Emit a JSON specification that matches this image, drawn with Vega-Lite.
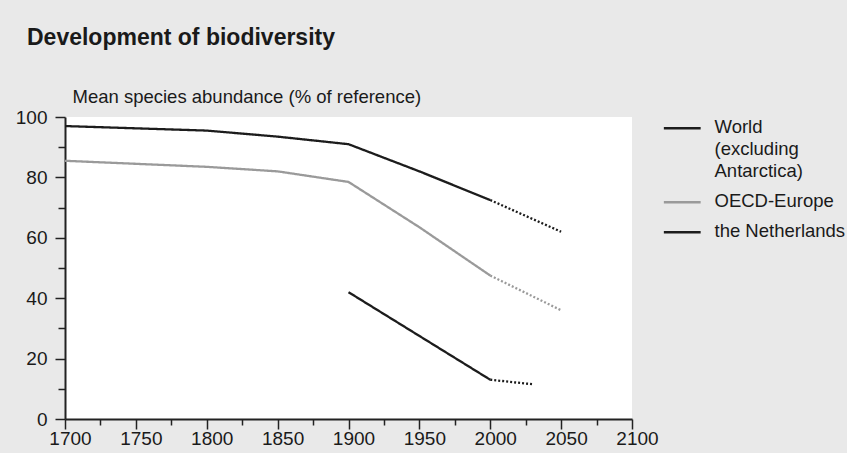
{
  "$schema": "https://vega.github.io/schema/vega-lite/v6.json",
  "width": 567,
  "height": 302,
  "autosize": "none",
  "padding": {"left": 65, "top": 117, "right": 215, "bottom": 34},
  "background": "#e9e9e9",
  "title": {
    "text": "Development of biodiversity",
    "anchor": "start",
    "frame": "group",
    "font": "Liberation Sans",
    "fontSize": 23,
    "fontWeight": "bold",
    "color": "#1a1a1a",
    "dx": -38,
    "offset": 37
  },
  "data": {
    "values": [
      {"region": "World (excluding Antarctica)", "phase": "observed", "year": 1700, "value": 97},
      {"region": "World (excluding Antarctica)", "phase": "observed", "year": 1800, "value": 95.5},
      {"region": "World (excluding Antarctica)", "phase": "observed", "year": 1850, "value": 93.5},
      {"region": "World (excluding Antarctica)", "phase": "observed", "year": 1900, "value": 91},
      {"region": "World (excluding Antarctica)", "phase": "observed", "year": 1950, "value": 82},
      {"region": "World (excluding Antarctica)", "phase": "observed", "year": 2000, "value": 72.5},
      {"region": "World (excluding Antarctica)", "phase": "projected", "year": 2000, "value": 72.5},
      {"region": "World (excluding Antarctica)", "phase": "projected", "year": 2050, "value": 62},
      {"region": "OECD-Europe", "phase": "observed", "year": 1700, "value": 85.5},
      {"region": "OECD-Europe", "phase": "observed", "year": 1800, "value": 83.5},
      {"region": "OECD-Europe", "phase": "observed", "year": 1850, "value": 82},
      {"region": "OECD-Europe", "phase": "observed", "year": 1900, "value": 78.5},
      {"region": "OECD-Europe", "phase": "observed", "year": 1950, "value": 63.5},
      {"region": "OECD-Europe", "phase": "observed", "year": 2000, "value": 47.5},
      {"region": "OECD-Europe", "phase": "projected", "year": 2000, "value": 47.5},
      {"region": "OECD-Europe", "phase": "projected", "year": 2050, "value": 36},
      {"region": "the Netherlands", "phase": "observed", "year": 1900, "value": 42},
      {"region": "the Netherlands", "phase": "observed", "year": 2000, "value": 13},
      {"region": "the Netherlands", "phase": "projected", "year": 2000, "value": 13},
      {"region": "the Netherlands", "phase": "projected", "year": 2030, "value": 11.5}
    ]
  },
  "mark": {"type": "line", "strokeWidth": 2.3, "clip": false},
  "encoding": {
    "x": {
      "field": "year",
      "type": "quantitative",
      "scale": {"domain": [1700, 2100], "nice": false, "zero": false},
      "axis": {
        "title": null,
        "values": [1700, 1725, 1750, 1775, 1800, 1825, 1850, 1875, 1900, 1925, 1950, 1975, 2000, 2025, 2050, 2075, 2100],
        "format": "d",
        "labelExpr": "datum.value % 50 === 0 ? datum.label : ''",
        "tickSize": {"condition": {"test": "datum.value % 50 === 0", "value": 10}, "value": 6},
        "labelPadding": 0,
        "labelOffset": 5,
        "labelFlush": false,
        "labelOverlap": false
      }
    },
    "y": {
      "field": "value",
      "type": "quantitative",
      "scale": {"domain": [0, 100], "nice": false},
      "axis": {
        "title": "Mean species abundance (% of reference)",
        "titleAngle": 0,
        "titleAlign": "left",
        "titleBaseline": "alphabetic",
        "titleX": 7,
        "titleY": -15,
        "titleFont": "Liberation Sans",
        "titleFontSize": 18.5,
        "titleFontWeight": "normal",
        "titleColor": "#1a1a1a",
        "values": [0, 10, 20, 30, 40, 50, 60, 70, 80, 90, 100],
        "labelExpr": "datum.value % 20 === 0 ? datum.label : ''",
        "tickSize": {"condition": {"test": "datum.value % 20 === 0", "value": 10}, "value": 7},
        "labelPadding": 8,
        "labelFlush": false,
        "labelOverlap": false
      }
    },
    "color": {
      "field": "region",
      "type": "nominal",
      "scale": {
        "domain": ["World (excluding Antarctica)", "OECD-Europe", "the Netherlands"],
        "range": ["#1c1c1c", "#9a9a9a", "#1c1c1c"]
      },
      "legend": {
        "title": null,
        "orient": "none",
        "legendX": 608,
        "legendY": 2,
        "symbolType": "M-4.6,0H4.6",
        "symbolSize": 64,
        "symbolStrokeWidth": 2.5,
        "labelFont": "Liberation Sans",
        "labelFontSize": 18.5,
        "labelColor": "#1a1a1a",
        "labelOffset": 23,
        "labelBaseline": "top",
        "labelLimit": 300,
        "rowPadding": 11,
        "padding": 0,
        "labelExpr": "datum.label === 'World (excluding Antarctica)' ? ['World', '(excluding', 'Antarctica)'] : datum.label",
        "encode": {
          "labels": {"update": {"dy": {"value": -10}, "lineHeight": {"value": 22}}}
        }
      }
    },
    "strokeDash": {
      "field": "phase",
      "type": "nominal",
      "scale": {"domain": ["observed", "projected"], "range": [[1, 0], [2, 2]]},
      "legend": null
    }
  },
  "config": {
    "view": {"fill": "#ffffff", "stroke": null},
    "axis": {
      "domainColor": "#222222",
      "domainWidth": 2,
      "tickColor": "#222222",
      "tickWidth": 1.5,
      "labelFont": "Liberation Sans",
      "labelFontSize": 19,
      "labelColor": "#1a1a1a",
      "grid": false
    }
  }
}
